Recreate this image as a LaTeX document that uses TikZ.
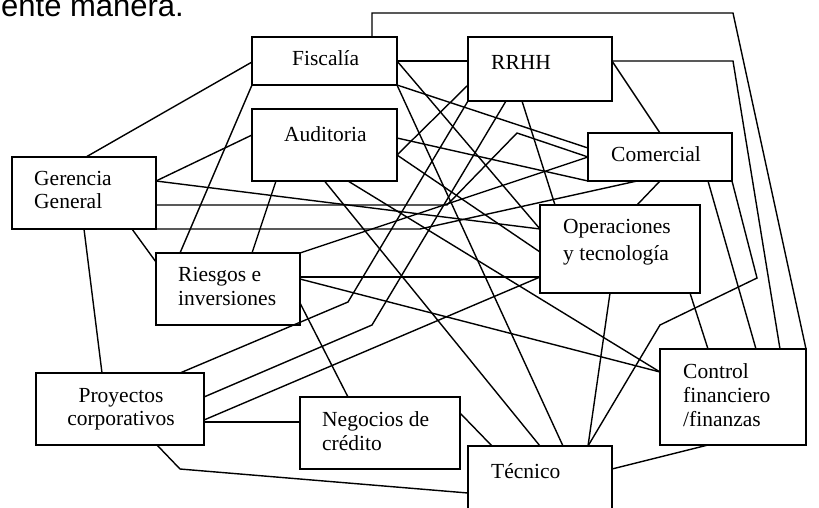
\documentclass[tikz,border=0pt]{standalone}
\usepackage{fontspec}
\setmainfont{Liberation Serif}
\newfontfamily\headfont{Liberation Sans}
\begin{document}
\begin{tikzpicture}[x=1pt,y=-1pt,
  box/.style={draw,line width=1.4pt,inner sep=0pt,outer sep=0pt},
  link/.style={line width=1.4pt,line join=miter},
  lbl/.style={anchor=base west,inner sep=0pt,font=\fontsize{21.5}{24}\selectfont},
  clbl/.style={anchor=base,inner sep=0pt,font=\fontsize{21.5}{24}\selectfont}]
\clip (0,0) rectangle (819,507);
\fill[white] (0,0) rectangle (819,507);

% tail of the sentence above the chart
\node[anchor=base west,inner sep=0pt,font=\headfont\fontsize{31}{36}\selectfont] (head) at (1,16) {ente manera.};

% departments
\node[box,minimum width=145pt,minimum height=48pt] (F)  at (324.5,61)  {};
\node[box,minimum width=145pt,minimum height=72pt] (A)  at (324.5,145) {};
\node[box,minimum width=144pt,minimum height=64pt] (R)  at (540,69)    {};
\node[box,minimum width=144pt,minimum height=48pt] (C)  at (660,157)   {};
\node[box,minimum width=144pt,minimum height=72pt] (G)  at (84,193)    {};
\node[box,minimum width=160pt,minimum height=88pt] (O)  at (620,249)   {};
\node[box,minimum width=144pt,minimum height=72pt] (Ri) at (228,289)   {};
\node[box,minimum width=168pt,minimum height=72pt] (P)  at (120,409)   {};
\node[box,minimum width=160pt,minimum height=72pt] (N)  at (380,433)   {};
\node[box,minimum width=146pt,minimum height=96pt] (CF) at (733,397)   {};
\node[box,minimum width=144pt,minimum height=84pt] (T)  at (540,488)   {};

% labels
\node[lbl] (tF)  at (292,65)    {Fiscalía};
\node[lbl] (tA)  at (284,141.5) {Auditoria};
\node[lbl] (tR)  at (491,69)    {RRHH};
\node[lbl] (tC)  at (611,161.5) {Comercial};
\node[lbl] (tG1) at (34,185)    {Gerencia};
\node[lbl] (tG2) at (34,208.5)  {General};
\node[lbl] (tO1) at (563,233)   {Operaciones};
\node[lbl] (tO2) at (563,260)   {y tecnología};
\node[lbl] (tRi1) at (178,281.5) {Riesgos e};
\node[lbl] (tRi2) at (178,305)   {inversiones};
\node[clbl] (tP1) at (121,402.5) {Proyectos};
\node[clbl] (tP2) at (121,425.5) {corporativos};
\node[lbl] (tN1) at (322,426.5) {Negocios de};
\node[lbl] (tN2) at (322,450)   {crédito};
\node[lbl] (tCF1) at (683,378)  {Control};
\node[lbl] (tCF2) at (683,402)  {financiero};
\node[lbl] (tCF3) at (683,426.5) {/finanzas};
\node[lbl] (tT)  at (491,478)   {Técnico};

% connections from Fiscalía
\draw[link] ([shift={(0,25)}]F.north west) -- ([shift={(74,0)}]G.north west);
\draw[link] (F.south west) -- ([shift={(24,0)}]Ri.north west);
\draw[link] (F.east) -- ([shift={(0,24)}]R.north west);
\draw[link] (F.east) -- ([shift={(0,24)}]O.north west);
\draw[link] (F.south east) -- ([shift={(0,15)}]C.north west);
\draw[link] (F.south east) -- ([shift={(95,0)}]T.north west);
\draw[link] ([shift={(120,0)}]F.north west) -- ++(0,-24) -- ++(361,0) -- (CF.north east);

% connections from Auditoria
\draw[link] ([shift={(0,26)}]A.north west) -- ([shift={(144,24)}]G.north west);
\draw[link] ([shift={(24,72)}]A.north west) -- ([shift={(96,0)}]Ri.north west);
\draw[link] ([shift={(145,46)}]A.north west) -- ([shift={(0,48)}]R.north west);
\draw[link] ([shift={(145,46)}]A.north west) -- ([shift={(0,47)}]O.north west);
\draw[link] ([shift={(145,29)}]A.north west) -- (C.south west);
\draw[link] (A.south) -- (T.north);
\draw[link] ([shift={(96,72)}]A.north west) -- ([shift={(0,23)}]CF.north west);

% connections from Gerencia General
\draw[link] ([shift={(144,24)}]G.north west) -- ([shift={(0,24)}]O.north west);
\draw[link] ([shift={(144,48)}]G.north west) -- ++(291,0) -- ++(70,-72) -- (C.west);
\draw[link] (G.south east) -- ++(264,0) -- ([shift={(49,48)}]C.north west);
\draw[link] (G.south) -- ([shift={(66,0)}]P.north west);
\draw[link] ([shift={(120,72)}]G.north west) -- ([shift={(0,9)}]Ri.north west);

% connections from RRHH
\draw[link] ([shift={(144,24)}]R.north west) -- (C.north);
\draw[link] ([shift={(144,24)}]R.north west) -- ++(121,0) -- ([shift={(120,0)}]CF.north west);
\draw[link] (R.south west) -- ++(-120,201) -- ([shift={(144,0)}]P.north west);
\draw[link] ([shift={(38,64)}]R.north west) -- ++(-134,224) -- ([shift={(168,24)}]P.north west);
\draw[link] ([shift={(54,64)}]R.north west) -- ([shift={(15,0)}]O.north west);

% connections from Comercial
\draw[link] (C.south) -- ([shift={(97,0)}]O.north west);
\draw[link] ([shift={(120,48)}]C.north west) -- ([shift={(96,0)}]CF.north west);
\draw[link] (C.south east) -- ++(25,97) -- ++(-97,47) -- ([shift={(120,0)}]T.north west);

% connections from Riesgos e inversiones
\draw[link] (Ri.north east) -- (C.west);
\draw[link] ([shift={(144,24)}]Ri.north west) -- ([shift={(0,72)}]O.north west);
\draw[link] ([shift={(144,26)}]Ri.north west) -- ([shift={(0,23)}]CF.north west);
\draw[link] ([shift={(144,50)}]Ri.north west) -- ([shift={(48,0)}]N.north west);

% connections from Operaciones y tecnología
\draw[link] ([shift={(0,72)}]O.north west) -- ([shift={(168,47)}]P.north west);
\draw[link] ([shift={(70,88)}]O.north west) -- ([shift={(120,0)}]T.north west);
\draw[link] ([shift={(150,88)}]O.north west) -- ([shift={(48,0)}]CF.north west);

% remaining connections
\draw[link] ([shift={(168,49)}]P.north west) -- ([shift={(0,25)}]N.north west);
\draw[link] ([shift={(121,72)}]P.north west) -- ++(23,24) -- ([shift={(0,47)}]T.north west);
\draw[link] ([shift={(160,16)}]N.north west) -- ([shift={(24,0)}]T.north west);
\draw[link] ([shift={(48,96)}]CF.north west) -- ([shift={(144,23)}]T.north west);
\end{tikzpicture}
\end{document}
